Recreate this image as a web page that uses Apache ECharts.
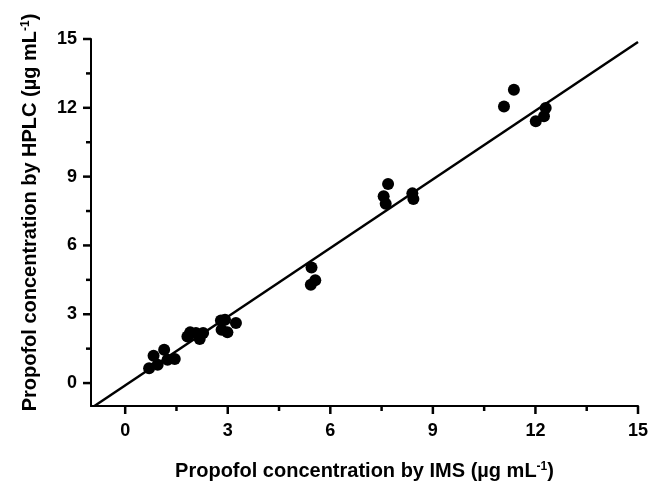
<!DOCTYPE html>
<html><head><meta charset="utf-8">
<script src="https://cdn.jsdelivr.net/npm/echarts@6/dist/echarts.min.js"></script>
<style>html,body{margin:0;padding:0;background:#fff}#c{width:649px;height:481px}</style>
</head><body><div id="c"></div>
<script>
var majorTicks = [0, 3, 6, 9, 12, 15];
var minorTicks = [1.5, 4.5, 7.5, 10.5, 13.5];
var imsValues = [0.70, 0.83, 0.95, 1.14, 1.24, 1.45, 1.82, 1.90, 2.07, 2.18, 2.28, 2.80, 2.92, 2.82, 2.99, 3.24, 5.45, 5.43, 5.56, 7.56, 7.62, 7.69, 8.40, 8.43, 11.08, 11.37, 12.01, 12.25, 12.30];
var hplcValues = [0.65, 1.19, 0.80, 1.45, 1.02, 1.05, 2.03, 2.21, 2.18, 1.92, 2.18, 2.73, 2.76, 2.32, 2.21, 2.62, 5.04, 4.29, 4.48, 8.14, 7.82, 8.68, 8.27, 8.02, 12.06, 12.79, 11.41, 11.63, 11.99];
var fitX = [-0.9, 15];
var fitY = [-1.0, 14.87];

var font = 'Liberation Sans, Arial, sans-serif';
function mainAxis(dim) {
  return {
    type: 'value', min: -1, max: 15, position: dim === 'x' ? 'bottom' : 'left',
    splitLine: { show: false },
    axisLine: { show: true, onZero: false, lineStyle: { color: '#000', width: 2 } },
    axisTick: { show: false },
    axisLabel: { show: true, customValues: majorTicks.slice(), color: '#000', fontFamily: font, fontWeight: 'bold', fontSize: 18, margin: dim === 'x' ? 16 : 14 },
    nameLocation: 'middle',
    nameTextStyle: { color: '#000', fontFamily: font, fontWeight: 'bold', fontSize: 20,
      rich: { sup: { fontSize: 12, fontWeight: 'bold', fontFamily: font, color: '#000', verticalAlign: 'top', padding: [0,0,9,0] },
              n: { fontSize: 20, fontWeight: 'bold', fontFamily: font, color: '#000' } } }
  };
}
var xa = mainAxis('x');
xa.name = '{n|Propofol concentration by IMS (µg mL}{sup|-1}{n|)}';
xa.nameGap = 55;
var ya = mainAxis('y');
ya.name = '{n|Propofol concentration by HPLC (µg mL}{sup|-1}{n|)}';
ya.nameGap = 50;
ya.nameTextStyle.padding = [0, 0, 0, 20];

var chart = echarts.init(document.getElementById('c'), null, { renderer: 'canvas' });
chart.setOption({
  backgroundColor: '#fff',
  animation: false,
  grid: { left: 91, right: 11, top: 39, bottom: 75, containLabel: false, outerBoundsMode: 'none' },
  xAxis: xa,
  yAxis: ya,
  series: [
    { type: 'scatter', symbol: 'circle', symbolSize: 12,
      itemStyle: { color: '#000', opacity: 1 },
      data: imsValues.map(function (v, i) { return [v, hplcValues[i]]; }) },
    { type: 'line', symbol: 'none', lineStyle: { color: '#000', width: 2.5 },
      data: fitX.map(function (v, i) { return [v, fitY[i]]; }) }
  ]
});

// axis ticks placed through the chart's own scales
var x0 = chart.convertToPixel({ xAxisIndex: 0 }, -1);
var y0 = chart.convertToPixel({ yAxisIndex: 0 }, -1);
var ticks = [];
function addTicks(vals, len) {
  vals.forEach(function (v) {
    var px = chart.convertToPixel({ xAxisIndex: 0 }, v);
    var py = chart.convertToPixel({ yAxisIndex: 0 }, v);
    ticks.push({ type: 'line', silent: true, z: 10, shape: { x1: px, y1: y0, x2: px, y2: y0 + len }, style: { stroke: '#000', lineWidth: 2.5 } });
    ticks.push({ type: 'line', silent: true, z: 10, shape: { x1: x0, y1: py, x2: x0 - len, y2: py }, style: { stroke: '#000', lineWidth: 2.5 } });
  });
}
addTicks(majorTicks, 8);
addTicks(minorTicks, 5);
chart.setOption({ graphic: { elements: ticks } });
</script></body></html>
